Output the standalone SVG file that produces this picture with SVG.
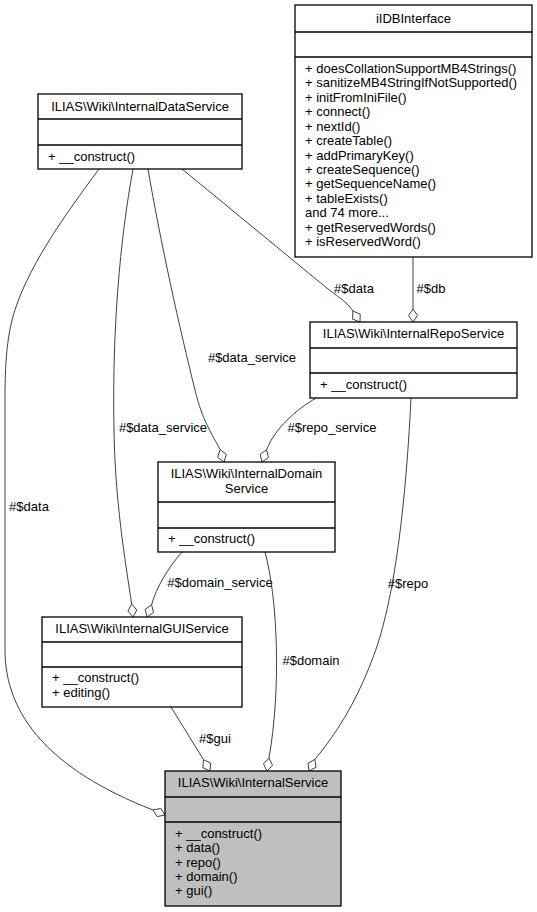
<svg xmlns="http://www.w3.org/2000/svg" width="537" height="912" viewBox="0 0 537 912">
<style>
text{font-family:"Liberation Sans",Arial,Helvetica,sans-serif;font-size:13px;fill:#000}
.t{text-anchor:middle}
.box{fill:#fff;stroke:#000;stroke-width:1.3}
.main{fill:#bfbfbf;stroke:#000;stroke-width:1.3}
.div{stroke:#000;stroke-width:1.3}
.e{fill:none;stroke:#404040;stroke-width:1}
.d{fill:#fff;stroke:#404040;stroke-width:1}
</style>
<rect width="537" height="912" fill="#fff"/>
<g id="connectors">
  <!-- #$data : DataService -> InternalService -->
  <path class="e" d="M99,169 C65,215 25,270 12,320 C6,345 5,370 5,400 L5,650 C5,715 50,770 153,810"/>
  <polygon class="d" points="165,815 160.8,808.4 153,810 157.2,816.6"/>
  <text class="t" x="29" y="511">#$data</text>
  <!-- #$data_service : DataService -> GUIService -->
  <path class="e" d="M133,169 C120,240 112,330 114,430 C115,500 125,560 131.7,604"/>
  <polygon class="d" points="133,617 136.8,610 131.7,604 127.9,611"/>
  <text class="t" x="163" y="432">#$data_service</text>
  <!-- #$data_service : DataService -> DomainService -->
  <path class="e" d="M148,169 C160,240 180,330 195,390 C202,420 213,436 220.1,449.6"/>
  <polygon class="d" points="224,462 226.3,454.4 220.1,449.6 217.7,457.2"/>
  <text class="t" x="252" y="362">#$data_service</text>
  <!-- #$data : DataService -> RepoService -->
  <path class="e" d="M182,169 L328,289 C340,298 348,303 352.9,311.1"/>
  <polygon class="d" points="360,322 360.2,314.1 352.9,311.1 352.6,319.1"/>
  <text class="t" x="354" y="293">#$data</text>
  <!-- #$db : iIDBInterface -> RepoService -->
  <path class="e" d="M413,257 L413,309"/>
  <polygon class="d" points="413,322 417.5,315.5 413,309 408.5,315.5"/>
  <text class="t" x="431" y="293">#$db</text>
  <!-- #$repo_service : RepoService -> DomainService -->
  <path class="e" d="M316,398 C296,410 275,428 266.6,449.8"/>
  <polygon class="d" points="262,462 268.5,457.5 266.6,449.8 260.1,454.3"/>
  <text class="t" x="332" y="432">#$repo_service</text>
  <!-- #$repo : RepoService -> InternalService -->
  <path class="e" d="M411,398 C405,520 392,610 372,660 C355,705 335,735 314.9,759.4"/>
  <polygon class="d" points="309,771 316,767.2 314.9,759.4 308,763.2"/>
  <text class="t" x="408" y="588">#$repo</text>
  <!-- #$domain_service : DomainService -> GUIService -->
  <path class="e" d="M182,552 C168,568 156,588 151.6,604.8"/>
  <polygon class="d" points="147,617 153.5,612.5 151.6,604.8 145.1,609.3"/>
  <text class="t" x="220" y="587">#$domain_service</text>
  <!-- #$domain : DomainService -> InternalService -->
  <path class="e" d="M265,552 C278,600 281,690 269,758"/>
  <polygon class="d" points="267,771 272.5,765.3 269,758 263.5,763.9"/>
  <text class="t" x="311" y="665">#$domain</text>
  <!-- #$gui : GUIService -> InternalService -->
  <path class="e" d="M171,707 L203.5,759.7"/>
  <polygon class="d" points="210,771 210.65,763.1 203.5,759.7 202.85,767.6"/>
  <text class="t" x="215" y="743">#$gui</text>
</g>
<g id="iIDBInterface">
  <rect class="box" x="295" y="5" width="237" height="252"/>
  <line class="div" x1="295" y1="32" x2="532" y2="32"/>
  <line class="div" x1="295" y1="57" x2="532" y2="57"/>
  <text class="t" x="413.5" y="23">iIDBInterface</text>
  <text x="305" y="73">+ doesCollationSupportMB4Strings()</text>
  <text x="305" y="87.4">+ sanitizeMB4StringIfNotSupported()</text>
  <text x="305" y="101.9">+ initFromIniFile()</text>
  <text x="305" y="116.3">+ connect()</text>
  <text x="305" y="130.7">+ nextId()</text>
  <text x="305" y="145.2">+ createTable()</text>
  <text x="305" y="159.6">+ addPrimaryKey()</text>
  <text x="305" y="174">+ createSequence()</text>
  <text x="305" y="188.4">+ getSequenceName()</text>
  <text x="305" y="202.9">+ tableExists()</text>
  <text x="305" y="217.3">and 74 more...</text>
  <text x="305" y="231.7">+ getReservedWords()</text>
  <text x="305" y="246.2">+ isReservedWord()</text>
</g>
<g id="InternalDataService">
  <rect class="box" x="38" y="94" width="204" height="75"/>
  <line class="div" x1="38" y1="119" x2="242" y2="119"/>
  <line class="div" x1="38" y1="145" x2="242" y2="145"/>
  <text class="t" x="140" y="111">ILIAS\Wiki\InternalDataService</text>
  <text x="48" y="161">+ __construct()</text>
</g>
<g id="InternalRepoService">
  <rect class="box" x="310" y="322" width="207" height="76"/>
  <line class="div" x1="310" y1="348" x2="517" y2="348"/>
  <line class="div" x1="310" y1="373" x2="517" y2="373"/>
  <text class="t" x="413.5" y="338">ILIAS\Wiki\InternalRepoService</text>
  <text x="320" y="389">+ __construct()</text>
</g>
<g id="InternalDomainService">
  <rect class="box" x="158" y="462" width="177" height="90"/>
  <line class="div" x1="158" y1="502" x2="335" y2="502"/>
  <line class="div" x1="158" y1="528" x2="335" y2="528"/>
  <text class="t" x="246.5" y="478">ILIAS\Wiki\InternalDomain</text>
  <text class="t" x="246.5" y="493">Service</text>
  <text x="168" y="543">+ __construct()</text>
</g>
<g id="InternalGUIService">
  <rect class="box" x="42" y="617" width="200" height="90"/>
  <line class="div" x1="42" y1="642" x2="242" y2="642"/>
  <line class="div" x1="42" y1="667" x2="242" y2="667"/>
  <text class="t" x="142" y="633">ILIAS\Wiki\InternalGUIService</text>
  <text x="52" y="682">+ __construct()</text>
  <text x="52" y="696.5">+ editing()</text>
</g>
<g id="InternalService">
  <rect class="main" x="165" y="771" width="176" height="135"/>
  <line class="div" x1="165" y1="797" x2="341" y2="797"/>
  <line class="div" x1="165" y1="822" x2="341" y2="822"/>
  <text class="t" x="253" y="787">ILIAS\Wiki\InternalService</text>
  <text x="175" y="838">+ __construct()</text>
  <text x="175" y="852.3">+ data()</text>
  <text x="175" y="866.6">+ repo()</text>
  <text x="175" y="880.9">+ domain()</text>
  <text x="175" y="895.2">+ gui()</text>
</g>
</svg>
